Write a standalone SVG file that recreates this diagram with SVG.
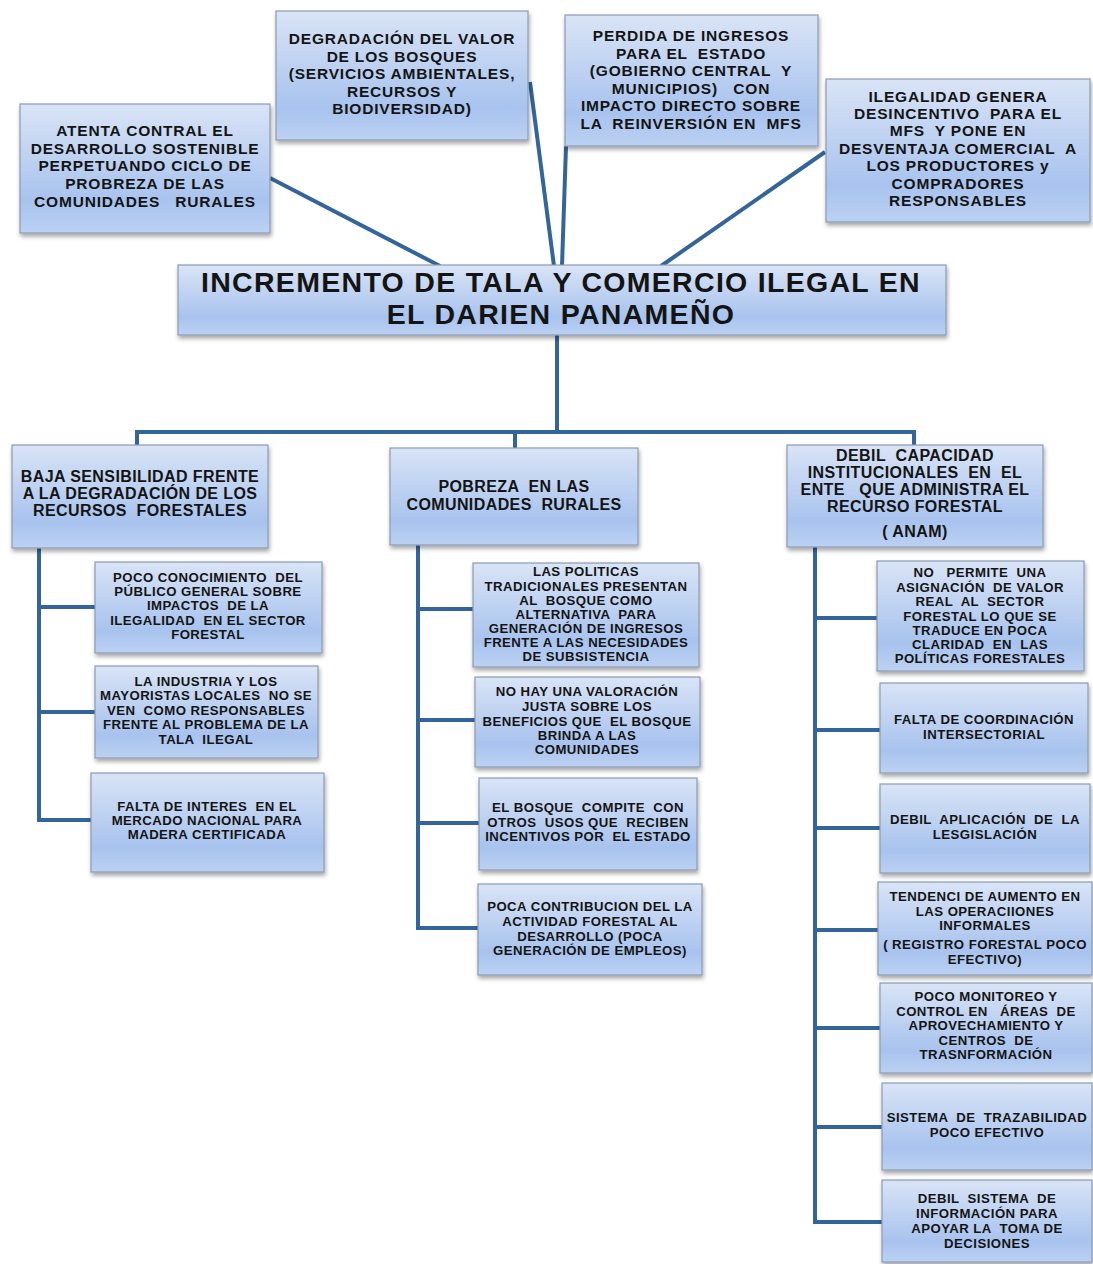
<svg xmlns="http://www.w3.org/2000/svg" width="1093" height="1264" viewBox="0 0 1093 1264">
<defs>
<linearGradient id="g" x1="0" y1="0" x2="0" y2="1">
<stop offset="0" stop-color="#d9e4f6"/>
<stop offset="0.75" stop-color="#a8c3ee"/>
<stop offset="1" stop-color="#bcd1f3"/>
</linearGradient>
<filter id="sh" x="-10%" y="-10%" width="120%" height="130%">
<feDropShadow dx="1" dy="3" stdDeviation="2" flood-color="#000" flood-opacity="0.35"/>
</filter>
</defs>
<style>
.b{fill:url(#g);stroke:#8a9bb3;stroke-width:1.2;filter:url(#sh)}
text{font-family:"Liberation Sans",Arial,sans-serif;font-weight:bold;fill:#141414;text-anchor:middle;white-space:pre}
.t1{font-size:15.5px;letter-spacing:0.8px}
.t0{font-size:28.5px;letter-spacing:1.3px}
.t2{font-size:16px;letter-spacing:0.4px}
.t3{font-size:13.2px;letter-spacing:0.45px}
.c{stroke:#33659b;stroke-width:4;fill:none}
</style>
<rect width="1093" height="1264" fill="#fff"/>
<g id="connectors" class="c">
<line x1="270" y1="178" x2="440" y2="266"/>
<line x1="530" y1="82" x2="554" y2="266"/>
<line x1="566" y1="146" x2="562" y2="266"/>
<line x1="825" y1="152" x2="661" y2="266"/>
<line x1="557" y1="335" x2="557" y2="432"/>
<polyline points="137,445 137,432 914,432 914,445"/>
<line x1="515" y1="432" x2="515" y2="448"/>
<polyline points="39,548 39,820 91,820"/>
<line x1="39" y1="607" x2="95" y2="607"/>
<line x1="39" y1="712" x2="95" y2="712"/>
<polyline points="418,545 418,928 478,928"/>
<line x1="418" y1="609" x2="473" y2="609"/>
<line x1="418" y1="720" x2="475" y2="720"/>
<line x1="418" y1="823" x2="479" y2="823"/>
<polyline points="815,547 815,1222 882,1222"/>
<line x1="815" y1="618" x2="877" y2="618"/>
<line x1="815" y1="730" x2="880" y2="730"/>
<line x1="815" y1="828" x2="880" y2="828"/>
<line x1="815" y1="930" x2="878" y2="930"/>
<line x1="815" y1="1028" x2="880" y2="1028"/>
<line x1="815" y1="1127" x2="882" y2="1127"/>
</g>
<g id="nA"><rect class="b" x="20" y="104" width="250" height="129"/>
<text class="t1"><tspan x="145" y="136">ATENTA CONTRAL EL</tspan><tspan x="145" y="154">DESARROLLO SOSTENIBLE</tspan><tspan x="145" y="171">PERPETUANDO CICLO DE</tspan><tspan x="145" y="189">PROBREZA DE LAS</tspan><tspan x="145" y="207">COMUNIDADES   RURALES</tspan></text></g>
<g id="nB"><rect class="b" x="276" y="11" width="252" height="129"/>
<text class="t1"><tspan x="402" y="44">DEGRADACIÓN DEL VALOR</tspan><tspan x="402" y="62">DE LOS BOSQUES</tspan><tspan x="402" y="79">(SERVICIOS AMBIENTALES,</tspan><tspan x="402" y="97">RECURSOS Y</tspan><tspan x="402" y="114">BIODIVERSIDAD)</tspan></text></g>
<g id="nC"><rect class="b" x="565" y="15" width="253" height="131"/>
<text class="t1"><tspan x="691" y="41">PERDIDA DE INGRESOS</tspan><tspan x="691" y="59">PARA EL  ESTADO</tspan><tspan x="691" y="76">(GOBIERNO CENTRAL  Y</tspan><tspan x="691" y="94">MUNICIPIOS)   CON</tspan><tspan x="691" y="111">IMPACTO DIRECTO SOBRE</tspan><tspan x="691" y="129">LA  REINVERSIÓN EN  MFS</tspan></text></g>
<g id="nD"><rect class="b" x="826" y="79" width="264" height="143"/>
<text class="t1"><tspan x="958" y="102">ILEGALIDAD GENERA</tspan><tspan x="958" y="119">DESINCENTIVO  PARA EL</tspan><tspan x="958" y="136">MFS  Y PONE EN</tspan><tspan x="958" y="154">DESVENTAJA COMERCIAL  A</tspan><tspan x="958" y="171">LOS PRODUCTORES y</tspan><tspan x="958" y="189">COMPRADORES</tspan><tspan x="958" y="206">RESPONSABLES</tspan></text></g>
<g id="nMain"><rect class="b" x="178" y="265" width="768" height="70"/>
<text class="t0"><tspan x="561" y="292">INCREMENTO DE TALA Y COMERCIO ILEGAL EN</tspan><tspan x="561" y="324">EL DARIEN PANAMEÑO</tspan></text></g>
<g id="nL1"><rect class="b" x="12" y="445" width="256" height="103"/>
<text class="t2"><tspan x="140" y="482">BAJA SENSIBILIDAD FRENTE</tspan><tspan x="140" y="499">A LA DEGRADACIÓN DE LOS</tspan><tspan x="140" y="516">RECURSOS  FORESTALES</tspan></text></g>
<g id="nL2"><rect class="b" x="95" y="562" width="227" height="91"/>
<text class="t3"><tspan x="208" y="582">POCO CONOCIMIENTO  DEL</tspan><tspan x="208" y="596">PÚBLICO GENERAL SOBRE</tspan><tspan x="208" y="610">IMPACTOS  DE LA</tspan><tspan x="208" y="625">ILEGALIDAD  EN EL SECTOR</tspan><tspan x="208" y="639">FORESTAL</tspan></text></g>
<g id="nL3"><rect class="b" x="95" y="666" width="223" height="92"/>
<text class="t3"><tspan x="206" y="686">LA INDUSTRIA Y LOS</tspan><tspan x="206" y="700">MAYORISTAS LOCALES  NO SE</tspan><tspan x="206" y="715">VEN  COMO RESPONSABLES</tspan><tspan x="206" y="729">FRENTE AL PROBLEMA DE LA</tspan><tspan x="206" y="744">TALA  ILEGAL</tspan></text></g>
<g id="nL4"><rect class="b" x="91" y="773" width="233" height="99"/>
<text class="t3"><tspan x="207" y="811">FALTA DE INTERES  EN EL</tspan><tspan x="207" y="825">MERCADO NACIONAL PARA</tspan><tspan x="207" y="839">MADERA CERTIFICADA</tspan></text></g>
<g id="nM1"><rect class="b" x="390" y="448" width="248" height="97"/>
<text class="t2"><tspan x="514" y="492">POBREZA  EN LAS</tspan><tspan x="514" y="510">COMUNIDADES  RURALES</tspan></text></g>
<g id="nM2"><rect class="b" x="473" y="563" width="226" height="104"/>
<text class="t3"><tspan x="586" y="576">LAS POLITICAS</tspan><tspan x="586" y="591">TRADICIONALES PRESENTAN</tspan><tspan x="586" y="605">AL  BOSQUE COMO</tspan><tspan x="586" y="619">ALTERNATIVA  PARA</tspan><tspan x="586" y="633">GENERACIÓN DE INGRESOS</tspan><tspan x="586" y="647">FRENTE A LAS NECESIDADES</tspan><tspan x="586" y="661">DE SUBSISTENCIA</tspan></text></g>
<g id="nM3"><rect class="b" x="475" y="677" width="225" height="90"/>
<text class="t3"><tspan x="587" y="696">NO HAY UNA VALORACIÓN</tspan><tspan x="587" y="711">JUSTA SOBRE LOS</tspan><tspan x="587" y="726">BENEFICIOS QUE  EL BOSQUE</tspan><tspan x="587" y="740">BRINDA A LAS</tspan><tspan x="587" y="754">COMUNIDADES</tspan></text></g>
<g id="nM4"><rect class="b" x="479" y="778" width="218" height="92"/>
<text class="t3"><tspan x="588" y="812">EL BOSQUE  COMPITE  CON</tspan><tspan x="588" y="827">OTROS  USOS QUE  RECIBEN</tspan><tspan x="588" y="841">INCENTIVOS POR  EL ESTADO</tspan></text></g>
<g id="nM5"><rect class="b" x="478" y="884" width="224" height="91"/>
<text class="t3"><tspan x="590" y="911">POCA CONTRIBUCION DEL LA</tspan><tspan x="590" y="926">ACTIVIDAD FORESTAL AL</tspan><tspan x="590" y="941">DESARROLLO (POCA</tspan><tspan x="590" y="955">GENERACIÓN DE EMPLEOS)</tspan></text></g>
<g id="nR1"><rect class="b" x="787" y="445" width="256" height="102"/>
<text class="t2"><tspan x="915" y="461">DEBIL  CAPACIDAD</tspan><tspan x="915" y="478">INSTITUCIONALES  EN  EL</tspan><tspan x="915" y="495">ENTE   QUE ADMINISTRA EL</tspan><tspan x="915" y="512">RECURSO FORESTAL</tspan><tspan x="915" y="537">( ANAM)</tspan></text></g>
<g id="nR2"><rect class="b" x="877" y="561" width="207" height="110"/>
<text class="t3"><tspan x="980" y="577">NO   PERMITE  UNA</tspan><tspan x="980" y="592">ASIGNACIÓN  DE VALOR</tspan><tspan x="980" y="606">REAL  AL  SECTOR</tspan><tspan x="980" y="621">FORESTAL LO QUE SE</tspan><tspan x="980" y="635">TRADUCE EN POCA</tspan><tspan x="980" y="649">CLARIDAD  EN  LAS</tspan><tspan x="980" y="663">POLÍTICAS FORESTALES</tspan></text></g>
<g id="nR3"><rect class="b" x="880" y="683" width="208" height="90"/>
<text class="t3"><tspan x="984" y="724">FALTA DE COORDINACIÓN</tspan><tspan x="984" y="739">INTERSECTORIAL</tspan></text></g>
<g id="nR4"><rect class="b" x="880" y="784" width="210" height="89"/>
<text class="t3"><tspan x="985" y="824">DEBIL  APLICACIÓN  DE  LA</tspan><tspan x="985" y="839">LESGISLACIÓN</tspan></text></g>
<g id="nR5"><rect class="b" x="878" y="882" width="214" height="93"/>
<text class="t3"><tspan x="985" y="901">TENDENCI DE AUMENTO EN</tspan><tspan x="985" y="916">LAS OPERACIIONES</tspan><tspan x="985" y="930">INFORMALES</tspan><tspan x="985" y="949">( REGISTRO FORESTAL POCO</tspan><tspan x="985" y="964">EFECTIVO)</tspan></text></g>
<g id="nR6"><rect class="b" x="880" y="983" width="212" height="90"/>
<text class="t3"><tspan x="986" y="1001">POCO MONITOREO Y</tspan><tspan x="986" y="1016">CONTROL EN   ÁREAS  DE</tspan><tspan x="986" y="1030">APROVECHAMIENTO Y</tspan><tspan x="986" y="1045">CENTROS  DE</tspan><tspan x="986" y="1059">TRASNFORMACIÓN</tspan></text></g>
<g id="nR7"><rect class="b" x="882" y="1083" width="210" height="87"/>
<text class="t3"><tspan x="987" y="1122">SISTEMA  DE  TRAZABILIDAD</tspan><tspan x="987" y="1137">POCO EFECTIVO</tspan></text></g>
<g id="nR8"><rect class="b" x="882" y="1180" width="210" height="82"/>
<text class="t3"><tspan x="987" y="1203">DEBIL  SISTEMA  DE</tspan><tspan x="987" y="1218">INFORMACIÓN PARA</tspan><tspan x="987" y="1233">APOYAR LA  TOMA DE</tspan><tspan x="987" y="1248">DECISIONES</tspan></text></g>
</svg>
